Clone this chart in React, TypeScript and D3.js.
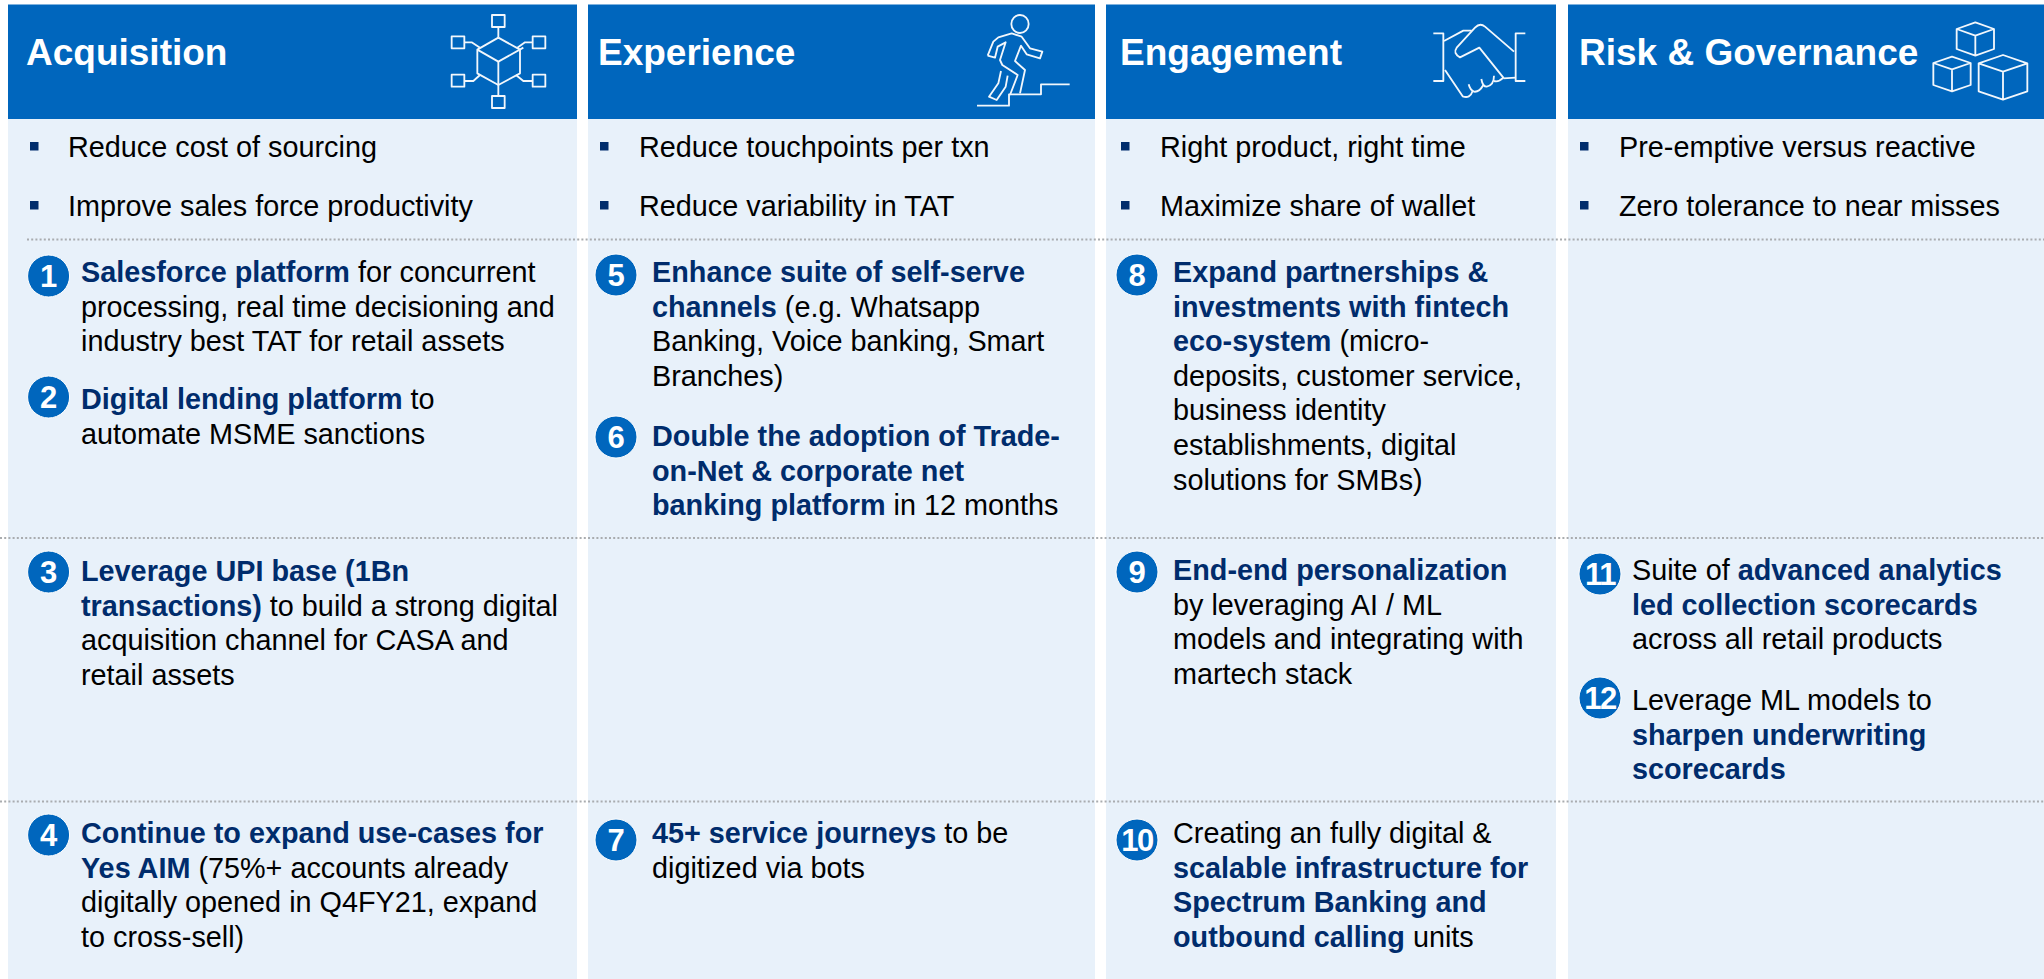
import React, { useEffect, useRef } from "react";
import * as d3 from "d3";

const WIDTH = 2044;
const HEIGHT = 979;
const FONT = "'Liberation Sans', Arial, sans-serif";

const BLUE = "#0066bd";
const PANEL = "#e8f1fa";
const NAVY = "#002c6c";
const BLACK = "#000000";
const BODY_SIZE = 28.8;

const columns = ["Acquisition", "Experience", "Engagement", "Risk & Governance"];

const objectives = [
  ["Reduce cost of sourcing", "Improve sales force productivity"],
  ["Reduce touchpoints per txn", "Reduce variability in TAT"],
  ["Right product, right time", "Maximize share of wallet"],
  ["Pre-emptive versus reactive", "Zero tolerance to near misses"],
];

// b: text in bold navy, t: plain text. One inner array per printed line
type Span = { b?: string; t?: string };
const initiatives: { col: number; num: number; lines: Span[][] }[] = [
  { col: 0, num: 1, lines: [[{ b: "Salesforce platform" }, { t: " for concurrent" }], [{ t: "processing, real time decisioning and" }], [{ t: "industry best TAT for retail assets" }]] },
  { col: 0, num: 2, lines: [[{ b: "Digital lending platform" }, { t: " to" }], [{ t: "automate MSME sanctions" }]] },
  { col: 0, num: 3, lines: [[{ b: "Leverage UPI base (1Bn" }], [{ b: "transactions)" }, { t: " to build a strong digital" }], [{ t: "acquisition channel for CASA and" }], [{ t: "retail assets" }]] },
  { col: 0, num: 4, lines: [[{ b: "Continue to expand use-cases for" }], [{ b: "Yes AIM" }, { t: " (75%+ accounts already" }], [{ t: "digitally opened in Q4FY21, expand" }], [{ t: "to cross-sell)" }]] },
  { col: 1, num: 5, lines: [[{ b: "Enhance suite of self-serve" }], [{ b: "channels" }, { t: " (e.g. Whatsapp" }], [{ t: "Banking, Voice banking, Smart" }], [{ t: "Branches)" }]] },
  { col: 1, num: 6, lines: [[{ b: "Double the adoption of Trade-" }], [{ b: "on-Net & corporate net" }], [{ b: "banking platform" }, { t: " in 12 months" }]] },
  { col: 1, num: 7, lines: [[{ b: "45+ service journeys" }, { t: " to be" }], [{ t: "digitized via bots" }]] },
  { col: 2, num: 8, lines: [[{ b: "Expand partnerships &" }], [{ b: "investments with fintech" }], [{ b: "eco-system" }, { t: " (micro-" }], [{ t: "deposits, customer service," }], [{ t: "business identity" }], [{ t: "establishments, digital" }], [{ t: "solutions for SMBs)" }]] },
  { col: 2, num: 9, lines: [[{ b: "End-end personalization" }], [{ t: "by leveraging AI / ML" }], [{ t: "models and integrating with" }], [{ t: "martech stack" }]] },
  { col: 2, num: 10, lines: [[{ t: "Creating an fully digital &" }], [{ b: "scalable infrastructure for" }], [{ b: "Spectrum Banking and" }], [{ b: "outbound calling" }, { t: " units" }]] },
  { col: 3, num: 11, lines: [[{ t: "Suite of " }, { b: "advanced analytics" }], [{ b: "led collection scorecards" }], [{ t: "across all retail products" }]] },
  { col: 3, num: 12, lines: [[{ t: "Leverage ML models to" }], [{ b: "sharpen underwriting" }], [{ b: "scorecards" }]] },
];

// layout, by column
const panelLeft = [8, 588, 1106, 1568];
const panelRight = [577, 1095, 1556, 2044];
const titleX = [26, 598, 1120, 1579];
const bulletX = [30, 600, 1121, 1580];
const objectiveX = [68, 639, 1160, 1619];
const circleX = [48.6, 616, 1137, 1600];
const itemX = [81, 652, 1173, 1632];

// layout, by initiative number
const firstBaseline = [282, 409, 581, 843, 282, 446, 843, 282, 580, 843, 580, 710];
const circleY = [276, 397, 572, 835, 275, 437, 840, 275, 572, 840, 574, 698];

const objectiveBaseline = [157, 216];
const dividers = [{ y: 239.5, x0: 27 }, { y: 538, x0: 0 }, { y: 801.5, x0: 0 }];
const LINE_STEP = 34.6;

// header icons, drawn in a 3x zoomed box and scaled back down
type Pt = [number, number];
const squares: Pt[] = [[175, 48], [54, 112], [297, 112], [54, 227], [297, 227], [175, 291]];
const networkLines: Pt[][] = [
  [[175, 98], [240, 134], [240, 205], [175, 240], [112, 205], [112, 134], [175, 98]],
  [[112, 134], [175, 170], [250, 128]],
  [[175, 170], [175, 272]],
  [[175, 66], [175, 98]],
  [[72, 112], [95, 112], [120, 128]],
  [[278, 112], [255, 112], [232, 128]],
  [[72, 228], [100, 228], [120, 210]],
  [[278, 228], [250, 228], [228, 210]],
];
const runnerLines: Pt[][] = [
  [[68, 152], [85, 110], [100, 97], [140, 85], [170, 95], [195, 130], [232, 140], [225, 160], [185, 148], [168, 122], [150, 168], [180, 195], [165, 265]],
  [[68, 152], [90, 158], [98, 125], [122, 112], [105, 165], [112, 180], [158, 210], [135, 270]],
  [[108, 198], [100, 235], [72, 275], [95, 285], [122, 245], [128, 212]],
  [[36, 302], [132, 302], [132, 268], [228, 268], [228, 238], [314, 238]],
];
const shakeLines: Pt[][] = [
  [[40, 85], [70, 85], [70, 228], [40, 228]],
  [[316, 85], [287, 85], [287, 228], [316, 228]],
  [[72, 108], [130, 77], [155, 77]],
  [[250, 220], [287, 218]],
];
const shakeCurves = [
  "M282,140 L195,65 Q180,52 165,68 L110,128 Q98,145 120,157 L178,128 L250,218 Q236,232 222,228",
  "M222,212 Q222,240 200,245 Q188,245 184,222",
  "M190,240 Q178,262 162,260 Q150,255 146,238",
  "M158,258 Q150,282 128,274 L75,195",
];
const cubes: { top: Pt; hw: number; hh: number; side: number }[] = [
  { top: [166, 52], hw: 56, hh: 20, side: 60 },
  { top: [96, 155], hw: 56, hh: 19, side: 66 },
  { top: [249, 150], hw: 73, hh: 25, side: 84 },
];
const iconOrigin: Pt[] = [[440, 5], [965, 5], [1420, 5], [1920, 5]];

const App = () => {
  const ref = useRef<SVGSVGElement>(null);

  useEffect(() => {
    const svg = d3.select(ref.current);
    svg.selectAll("*").remove();

    const x0 = d3.scaleOrdinal<string, number>().domain(columns).range(panelLeft);
    const x1 = d3.scaleOrdinal<string, number>().domain(columns).range(panelRight);
    const y = d3.scaleLinear().domain([0, HEIGHT]).range([0, HEIGHT]);
    const line = d3.line();

    // panels and headers
    const col = svg.selectAll("g.col").data(columns).join("g").attr("class", "col");
    col.append("rect")
      .attr("x", (d) => x0(d))
      .attr("y", y(119))
      .attr("width", (d) => x1(d) - x0(d))
      .attr("height", y(HEIGHT) - y(119))
      .attr("fill", PANEL);
    col.append("rect")
      .attr("x", (d) => x0(d))
      .attr("y", y(4.5))
      .attr("width", (d) => x1(d) - x0(d))
      .attr("height", y(119) - y(4.5))
      .attr("fill", BLUE);
    col.append("text")
      .attr("x", (_, i) => titleX[i])
      .attr("y", y(65))
      .attr("fill", "#fff")
      .attr("font-size", 37)
      .attr("font-weight", 700)
      .text((d) => d);

    // objectives
    objectives.forEach((list, c) => {
      const g = svg.append("g");
      g.selectAll("rect").data(list).join("rect")
        .attr("x", bulletX[c])
        .attr("y", (_, i) => y(objectiveBaseline[i] - 15))
        .attr("width", 8.5)
        .attr("height", 8.5)
        .attr("fill", NAVY);
      g.selectAll("text").data(list).join("text")
        .attr("x", objectiveX[c])
        .attr("y", (_, i) => y(objectiveBaseline[i]))
        .attr("fill", BLACK)
        .attr("font-size", BODY_SIZE)
        .text((d) => d);
    });

    // dividers
    svg.selectAll("line.divider").data(dividers).join("line")
      .attr("class", "divider")
      .attr("x1", (d) => d.x0)
      .attr("x2", WIDTH)
      .attr("y1", (d) => y(d.y))
      .attr("y2", (d) => y(d.y))
      .attr("stroke", "#a9acaf")
      .attr("stroke-width", 2)
      .attr("stroke-dasharray", "2 2.2");

    // numbered initiatives
    const item = svg.selectAll("g.item").data(initiatives).join("g").attr("class", "item");
    item.append("circle")
      .attr("cx", (d) => circleX[d.col])
      .attr("cy", (d) => y(circleY[d.num - 1]))
      .attr("r", 21)
      .attr("fill", BLUE)
      .attr("stroke", "#fff")
      .attr("stroke-width", 1);
    item.append("text")
      .attr("x", (d) => circleX[d.col])
      .attr("y", (d) => y(circleY[d.num - 1]) + 11)
      .attr("text-anchor", "middle")
      .attr("fill", "#fff")
      .attr("font-size", 31)
      .attr("font-weight", 700)
      .attr("letter-spacing", (d) => (d.num > 9 ? -1.5 : 0))
      .text((d) => d.num);
    item.each(function (d) {
      d3.select(this).selectAll("text.line").data(d.lines).join("text")
        .attr("class", "line")
        .attr("x", itemX[d.col])
        .attr("y", (_, i) => y(firstBaseline[d.num - 1] + i * LINE_STEP))
        .attr("font-size", BODY_SIZE)
        .style("white-space", "pre")
        .selectAll("tspan").data((l) => l).join("tspan")
        .attr("font-weight", (s) => (s.b ? 700 : 400))
        .attr("fill", (s) => (s.b ? NAVY : BLACK))
        .text((s) => s.b ?? s.t ?? "");
    });

    // header icons
    const icons = svg.selectAll("g.icon").data(iconOrigin).join("g")
      .attr("class", "icon")
      .attr("transform", (d) => `translate(${d[0]},${d[1]}) scale(${1 / 3})`)
      .attr("fill", "none")
      .attr("stroke", "#f2f7fc")
      .attr("stroke-width", 5.5)
      .attr("stroke-linejoin", "round");
    const network = icons.filter((_, i) => i === 0);
    network.selectAll("rect").data(squares).join("rect")
      .attr("x", (d) => d[0] - 19)
      .attr("y", (d) => d[1] - 18)
      .attr("width", 38)
      .attr("height", 36);
    network.selectAll("path").data(networkLines).join("path").attr("d", (d) => line(d));
    const runner = icons.filter((_, i) => i === 1);
    runner.append("ellipse").attr("cx", 165).attr("cy", 57).attr("rx", 26).attr("ry", 27);
    runner.selectAll("path").data(runnerLines).join("path").attr("d", (d) => line(d));
    const shake = icons.filter((_, i) => i === 2);
    shake.selectAll("path.l").data(shakeLines).join("path").attr("class", "l").attr("d", (d) => line(d));
    shake.selectAll("path.c").data(shakeCurves).join("path").attr("class", "c").attr("d", (d) => d);
    const boxes = icons.filter((_, i) => i === 3);
    boxes.selectAll("path").data(cubes).join("path").attr("d", ({ top: [cx, cy], hw, hh, side }) => {
      const p = d3.path();
      p.moveTo(cx, cy);
      p.lineTo(cx + hw, cy + hh);
      p.lineTo(cx + hw, cy + hh + side);
      p.lineTo(cx, cy + 2 * hh + side);
      p.lineTo(cx - hw, cy + hh + side);
      p.lineTo(cx - hw, cy + hh);
      p.closePath();
      p.moveTo(cx - hw, cy + hh);
      p.lineTo(cx, cy + 2 * hh);
      p.lineTo(cx + hw, cy + hh);
      p.moveTo(cx, cy + 2 * hh);
      p.lineTo(cx, cy + 2 * hh + side);
      return p.toString();
    });
  }, []);

  return (
    <svg
      ref={ref}
      width={WIDTH}
      height={HEIGHT}
      style={{ position: "absolute", left: 0, top: 0, fontFamily: FONT, background: "#fff" }}
    />
  );
};

export default App;
